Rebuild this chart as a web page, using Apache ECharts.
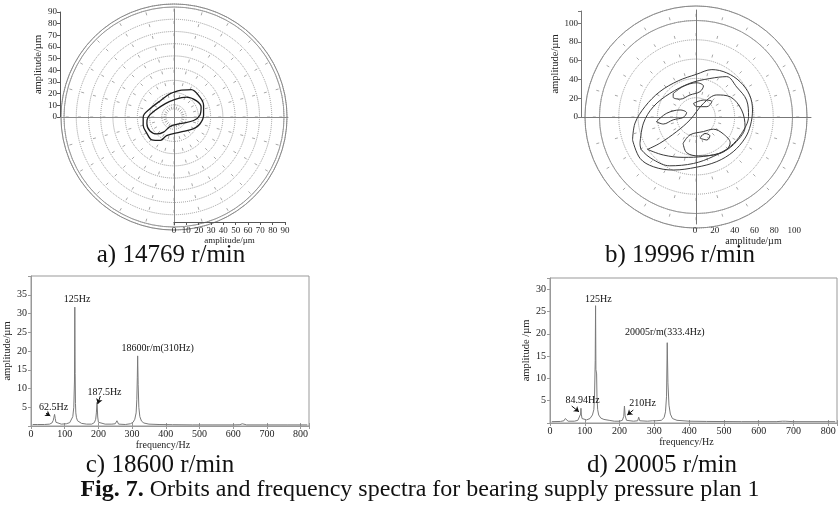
<!DOCTYPE html>
<html>
<head>
<meta charset="utf-8">
<script src="https://cdn.jsdelivr.net/npm/echarts@6/dist/echarts.min.js"></script>
<style>
html, body { margin: 0; padding: 0; background: #fff; }
#fig { width: 839px; height: 507px; }
</style>
</head>
<body>
<div id="fig"></div>
<script>
// orbit a) 14769 r/min, [x, y] in µm
const orbitAOuter = [[6,23],[14,23.5],[21,17],[24,10],[24,1.5],[21,-6],[16,-10],[5,-13],[-6,-16],[-11,-20],[-18,-19.5],[-22,-14],[-25,-7],[-25,0],[-19.5,7],[-11,14],[-3,20],[6,23]];
const orbitAInner = [[1,15],[10,17],[18,14],[22,8.5],[21,1.5],[16,-3],[6,-5.5],[-3,-8],[-8.5,-13],[-14,-14.5],[-19.5,-12],[-22,-5.5],[-21,0],[-15.5,5.5],[-7,11.5],[1,15]];

// orbit b) 19996 r/min
const orbitB1 = [[-64,-24.5],[-61.5,-6.5],[-51.5,11],[-36.5,27],[-18,38.5],[0.5,45.5],[16,50.5],[31,47],[44.5,37.5],[54,23.5],[57,7.5],[55,-8.5],[49.5,-22.5],[37.5,-37],[21,-47.5],[0.5,-53.5],[-23,-56.5],[-43,-53],[-56.5,-44],[-64,-24.5]];
const orbitB2 = [[-56.5,-28],[-53,-6.5],[-43,11],[-26.5,25],[-6,36],[14,41],[31,43],[41,32],[51,18],[53,0.5],[46,-17.5],[34.5,-31.5],[17.5,-42],[-2.5,-49.5],[-26.5,-52],[-43,-45.5],[-55,-35],[-56.5,-28]];
const orbitB3 = [[-49,-34.5],[-36.5,-28],[-19.5,-15.5],[-6,-3],[7.5,14.5],[21,23.5],[34.5,21.5],[46,7.5],[49.5,-10.5],[41,-26],[27.5,-37],[7.5,-42],[-13,-43],[-33,-40.5],[-49,-34.5]];
const beanTop = [[-23,25],[-13,32.5],[0.5,36.5],[7.5,33],[4,27],[-6,23.5],[-16,19],[-23,21],[-23,25]];
const beanMid = [[-2.5,14.5],[7.5,18],[16,16.5],[11,11],[0.5,11],[-2.5,14.5]];
const beanLeft = [[-40,-5],[-29.5,4],[-16,7.5],[-9.5,4.5],[-13,-0.5],[-23,-3],[-33,-7.5],[-40,-5]];
const beanBottom = [[-13,-28],[-6,-19],[7.5,-15.5],[17.5,-13],[27.5,-18],[34.5,-27.5],[29.5,-36],[17.5,-40.5],[2.5,-41.5],[-9.5,-38],[-13,-28]];
const beanSmall = [[4,-22.5],[9,-17.5],[14,-20],[11,-24.5],[4,-22.5]];

// spectrum c) 18600 r/min, [frequency Hz, amplitude µm]
const spectrumC = [[5,0.4],[20,0.4],[40,0.4],[55,0.5],[62,0.8],[66,1.5],[68,2.3],[70,3.1],[72,2.0],[74,1.0],[78,0.6],[90,0.5],[105,0.6],[115,0.9],[120,1.4],[124,2.5],[127,5],[129,12],[130,31.7],[131,14],[132,6],[133,3.5],[135,2.2],[138,1.4],[142,1.0],[150,0.7],[165,0.5],[180,0.5],[188,0.9],[192,1.8],[194,3.5],[196,6.3],[198,2.4],[200,1.0],[205,0.6],[220,0.5],[240,0.5],[250,0.6],[253,1.0],[255,1.4],[257,0.9],[260,0.5],[280,0.4],[295,0.6],[303,1.0],[308,1.8],[312,3.5],[314,7],[315.5,13],[316.5,18.7],[318,11],[320,5],[323,2.5],[328,1.3],[335,0.8],[350,0.5],[380,0.4],[420,0.35],[480,0.3],[540,0.3],[600,0.3],[620,0.35],[625,0.5],[627,0.6],[630,0.4],[640,0.3],[700,0.3],[760,0.3],[820,0.3]];
// spectrum d) 20005 r/min
const spectrumD = [[5,0.3],[30,0.35],[40,0.5],[44,1.0],[46,1.4],[48,0.8],[52,0.4],[70,0.4],[80,0.6],[85,1.0],[88,2.0],[89,3.3],[90,2.0],[92,1.0],[96,0.7],[105,0.7],[115,1.0],[122,1.8],[126,3],[128,6],[130,14],[131,26.3],[132,12],[134,11],[135,6],[137,3],[140,1.8],[146,1.1],[155,0.8],[170,0.6],[185,0.4],[200,0.4],[208,0.6],[212,1.5],[214,3.8],[216,1.6],[220,0.6],[240,0.4],[252,0.5],[255,1.3],[258,0.5],[280,0.4],[295,0.5],[300,0.6],[305,0.5],[320,0.6],[328,1.2],[332,2.5],[335,6],[337,18],[339,9],[342,4],[346,2],[352,1],[365,0.6],[400,0.4],[450,0.35],[550,0.3],[650,0.3],[668,0.4],[672,0.6],[676,0.4],[700,0.3],[820,0.3]];

// peak notes: [label, freq, amplitude]
const notesC = [['125Hz',137,33.9],['18600r/m(310Hz)',376,20.8],['187.5Hz',218,8.9],['62.5Hz',67,5.0]];
const notesD = [['125Hz',139,27.8],['20005r/m(333.4Hz)',330,20.4],['84.94Hz',94,5.0],['210Hz',266,4.3]];
const arrowsC = [[[205.8,8.0],[198,5.9]],[[44.5,3.4],[57.3,2.7]]];
const arrowsD = [[[62.4,3.8],[83.3,2.5]],[[239.4,2.9],[222.1,1.8]]];

const serif = '"Liberation Serif", "Times New Roman", serif';
const txt = { fontFamily: serif, color: '#222' };

const hiddenAxis = (g) => ({ gridIndex: g, type: 'value', show: false, min: 0, max: 1 });

const orbitLine = (data, xi, color, width) => ({
  type: 'line', xAxisIndex: xi, yAxisIndex: xi, data: data,
  showSymbol: false, symbol: 'none', smooth: 0.35, silent: true,
  lineStyle: { color: color, width: width }
});

const spectrum = (data, xi, notes, arrows) => ({
  type: 'line', xAxisIndex: xi, yAxisIndex: xi, data: data,
  showSymbol: false, symbol: 'none', silent: true,
  lineStyle: { color: '#7a7a7a', width: 1 },
  markPoint: {
    symbol: 'circle', symbolSize: 1, silent: true,
    itemStyle: { color: 'rgba(0,0,0,0)' },
    label: { show: true, position: 'inside', formatter: '{b}', fontSize: 10, fontFamily: serif, color: '#111' },
    data: notes.map(n => ({ name: n[0], coord: [n[1], n[2]] }))
  },
  markLine: {
    silent: true, symbol: ['none', 'arrow'], symbolSize: 5,
    lineStyle: { color: '#111', width: 1, type: 'solid' },
    label: { show: false },
    data: arrows.map(a => [{ coord: a[0] }, { coord: a[1] }])
  }
});

// rings: radius axis split circles + outer circle
const ringRadius = (p, max, interval) => ({
  polarIndex: p, type: 'value', min: 0, max: max, interval: interval,
  axisLine: { show: false }, axisTick: { show: false }, axisLabel: { show: false },
  splitLine: { show: true, lineStyle: { color: '#9a9a9a', type: 'dotted', width: 1 } }
});
const circleAngle = (p, color) => ({
  polarIndex: p, type: 'value', min: 0, max: 360,
  axisLine: { show: true, lineStyle: { color: color, width: 1 } },
  axisTick: { show: false }, axisLabel: { show: false }, splitLine: { show: false }
});
const plainRadius = (p) => ({
  polarIndex: p, type: 'value', min: 0, max: 1,
  axisLine: { show: false }, axisTick: { show: false }, axisLabel: { show: false }, splitLine: { show: false }
});
// short radial ticks where the spokes cross the rings
const spokeAngle = (p, gap, offset) => ({
  polarIndex: p, type: 'value', min: 0, max: 360, interval: 15,
  axisLine: { show: false }, axisTick: { show: false }, axisLabel: { show: false },
  splitLine: { show: true, lineStyle: { color: '#a8a8a8', width: 1, type: [3, gap], dashOffset: offset } }
});

const noMax = (limit) => (v => v > limit ? '' : v);

const chart = echarts.init(document.getElementById('fig'), null, { renderer: 'canvas' });

const option = {
  animation: false,
  backgroundColor: '#fff',
  polar: [
    { center: [174, 117], radius: 113 },
    { center: [174, 117], radius: 110 },
    { center: [174, 117], radius: [6, 113] },
    { center: [696, 117], radius: 111 },
    { center: [696, 117], radius: 96.5 },
    { center: [696, 117], radius: [10, 111] }
  ],
  radiusAxis: [ringRadius(0, 92.5, 10), plainRadius(1), plainRadius(2), ringRadius(3, 115, 20), plainRadius(4), plainRadius(5)],
  angleAxis: [circleAngle(0, '#8a8a8a'), circleAngle(1, '#9a9a9a'), spokeAngle(2, 9.216, 7.5),
              circleAngle(3, '#8a8a8a'), circleAngle(4, '#9a9a9a'), spokeAngle(5, 16.304, 11.5)],
  grid: [
    { left: 60, top: 9, width: 228, height: 216, outerBoundsMode: 'none' },
    { left: 60, top: 12, width: 2, height: 105, outerBoundsMode: 'none' },
    { left: 174, top: 221, width: 111, height: 1, outerBoundsMode: 'none' },
    { left: 581, top: 10, width: 230, height: 214, outerBoundsMode: 'none' },
    { left: 581, top: 11, width: 2, height: 106, outerBoundsMode: 'none' },
    { left: 695, top: 223, width: 117, height: 1, outerBoundsMode: 'none' },
    { left: 31, top: 276, width: 278, height: 150, show: true, borderColor: '#999', outerBoundsMode: 'none' },
    { left: 550, top: 278, width: 287, height: 145, show: true, borderColor: '#999', outerBoundsMode: 'none' }
  ],
  xAxis: [
    { gridIndex: 0, type: 'value', min: -92.5, max: 92.5, axisLine: { onZero: true, lineStyle: { color: '#8a8a8a' } },
      axisTick: { show: false }, axisLabel: { show: false }, splitLine: { show: false } },
    hiddenAxis(1),
    { gridIndex: 2, type: 'value', min: 0, max: 90, interval: 10, position: 'bottom',
      axisLine: { lineStyle: { color: '#555' } }, axisTick: { length: 3, lineStyle: { color: '#555' } },
      axisLabel: Object.assign({ fontSize: 9, margin: 4 }, txt), splitLine: { show: false },
      name: 'amplitude/µm', nameLocation: 'middle', nameGap: 14, nameTextStyle: Object.assign({ fontSize: 9 }, txt) },
    { gridIndex: 3, type: 'value', min: -116, max: 116, axisLine: { onZero: true, lineStyle: { color: '#777' } },
      axisTick: { show: false }, axisLabel: { show: false }, splitLine: { show: false } },
    hiddenAxis(4),
    { gridIndex: 5, type: 'value', min: 0, max: 118, interval: 20, position: 'bottom',
      axisLine: { show: false }, axisTick: { show: false },
      axisLabel: Object.assign({ fontSize: 9, margin: 2, formatter: noMax(100) }, txt), splitLine: { show: false },
      name: 'amplitude/µm', nameLocation: 'middle', nameGap: 12, nameTextStyle: Object.assign({ fontSize: 10 }, txt) },
    { gridIndex: 6, type: 'value', min: 0, max: 825, interval: 100, position: 'bottom',
      axisLine: { lineStyle: { color: '#999' } }, axisTick: { inside: true, length: 3, lineStyle: { color: '#999' } },
      axisLabel: Object.assign({ fontSize: 10, margin: 3, formatter: noMax(800) }, txt), splitLine: { show: false },
      name: 'frequency/Hz', nameLocation: 'middle', nameGap: 12,
      nameTextStyle: Object.assign({ fontSize: 10, padding: [0, 14, 0, 0] }, txt) },
    { gridIndex: 6, type: 'value', min: 0, max: 825, interval: 100, position: 'top',
      axisLine: { show: false }, axisTick: { inside: true, length: 3, lineStyle: { color: '#999' } },
      axisLabel: { show: false }, splitLine: { show: false } },
    { gridIndex: 7, type: 'value', min: 0, max: 825, interval: 100, position: 'bottom',
      axisLine: { lineStyle: { color: '#999' } }, axisTick: { inside: true, length: 3, lineStyle: { color: '#999' } },
      axisLabel: Object.assign({ fontSize: 10, margin: 3, formatter: noMax(800) }, txt), splitLine: { show: false },
      name: 'frequency/Hz', nameLocation: 'middle', nameGap: 12,
      nameTextStyle: Object.assign({ fontSize: 10, padding: [0, 14, 0, 0] }, txt) },
    { gridIndex: 7, type: 'value', min: 0, max: 825, interval: 100, position: 'top',
      axisLine: { show: false }, axisTick: { inside: true, length: 3, lineStyle: { color: '#999' } },
      axisLabel: { show: false }, splitLine: { show: false } }
  ],
  yAxis: [
    { gridIndex: 0, type: 'value', min: -92.5, max: 92.5, axisLine: { onZero: true, lineStyle: { color: '#8a8a8a' } },
      axisTick: { show: false }, axisLabel: { show: false }, splitLine: { show: false } },
    { gridIndex: 1, type: 'value', min: 0, max: 90, interval: 10, position: 'left',
      axisLine: { show: true, lineStyle: { color: '#555' } }, axisTick: { show: true, length: 3, lineStyle: { color: '#555' } },
      axisLabel: Object.assign({ fontSize: 9, margin: 3 }, txt), splitLine: { show: false },
      name: 'amplitude/µm', nameLocation: 'middle', nameGap: 13, nameTextStyle: Object.assign({ fontSize: 10.5 }, txt) },
    hiddenAxis(2),
    { gridIndex: 3, type: 'value', min: -114, max: 114, axisLine: { onZero: true, lineStyle: { color: '#777' } },
      axisTick: { show: false }, axisLabel: { show: false }, splitLine: { show: false } },
    { gridIndex: 4, type: 'value', min: 0, max: 113, interval: 20, position: 'left',
      axisLine: { show: true, lineStyle: { color: '#777' } }, axisTick: { show: true, length: 3, lineStyle: { color: '#777' } },
      axisLabel: Object.assign({ fontSize: 9, margin: 3, formatter: noMax(100) }, txt), splitLine: { show: false },
      name: 'amplitude/µm', nameLocation: 'middle', nameGap: 16, nameTextStyle: Object.assign({ fontSize: 10.5 }, txt) },
    hiddenAxis(5),
    { gridIndex: 6, type: 'value', min: 0, max: 40, interval: 5, position: 'left',
      axisLine: { show: true, lineStyle: { color: '#999' } }, axisTick: { show: true, length: 3, lineStyle: { color: '#999' } },
      axisLabel: Object.assign({ fontSize: 10, margin: 4, formatter: v => (v === 0 || v === 40) ? '' : v }, txt),
      splitLine: { show: false },
      name: 'amplitude/µm', nameLocation: 'middle', nameGap: 15, nameTextStyle: Object.assign({ fontSize: 10.5 }, txt) },
    { gridIndex: 6, type: 'value', min: 0, max: 40, interval: 5, position: 'right',
      axisLine: { show: false }, axisTick: { show: true, inside: true, length: 3, lineStyle: { color: '#999' } },
      axisLabel: { show: false }, splitLine: { show: false } },
    { gridIndex: 7, type: 'value', min: 0, max: 32.5, interval: 5, position: 'left',
      axisLine: { show: true, lineStyle: { color: '#999' } }, axisTick: { show: true, length: 3, lineStyle: { color: '#999' } },
      axisLabel: Object.assign({ fontSize: 10, margin: 4, formatter: v => (v === 0 || v > 30) ? '' : v }, txt),
      splitLine: { show: false },
      name: 'amplitude /µm', nameLocation: 'middle', nameGap: 17, nameTextStyle: Object.assign({ fontSize: 10.5 }, txt) },
    { gridIndex: 7, type: 'value', min: 0, max: 32.5, interval: 5, position: 'right',
      axisLine: { show: false }, axisTick: { show: true, inside: true, length: 3, lineStyle: { color: '#999' } },
      axisLabel: { show: false }, splitLine: { show: false } }
  ],
  series: [
    orbitLine(orbitAOuter, 0, '#1e1e1e', 1.3),
    orbitLine(orbitAInner, 0, '#1e1e1e', 1.3),
    orbitLine(orbitB1, 3, '#3a3a3a', 1),
    orbitLine(orbitB2, 3, '#3a3a3a', 1),
    orbitLine(orbitB3, 3, '#3a3a3a', 1),
    orbitLine(beanTop, 3, '#3a3a3a', 1),
    orbitLine(beanMid, 3, '#3a3a3a', 1),
    orbitLine(beanLeft, 3, '#3a3a3a', 1),
    orbitLine(beanBottom, 3, '#3a3a3a', 1),
    orbitLine(beanSmall, 3, '#3a3a3a', 1),
    spectrum(spectrumC, 6, notesC, arrowsC),
    spectrum(spectrumD, 8, notesD, arrowsD)
  ],
  graphic: [
    { type: 'text', x: 171, y: 255, style: { text: 'a) 14769 r/min', fontSize: 25, fontFamily: serif, fill: '#111', align: 'center', verticalAlign: 'middle', textAlign: 'center', textVerticalAlign: 'middle' } },
    { type: 'text', x: 680, y: 255, style: { text: 'b) 19996 r/min', fontSize: 25, fontFamily: serif, fill: '#111', align: 'center', verticalAlign: 'middle', textAlign: 'center', textVerticalAlign: 'middle' } },
    { type: 'text', x: 160, y: 465, style: { text: 'c) 18600 r/min', fontSize: 25, fontFamily: serif, fill: '#111', align: 'center', verticalAlign: 'middle', textAlign: 'center', textVerticalAlign: 'middle' } },
    { type: 'text', x: 662, y: 465, style: { text: 'd) 20005 r/min', fontSize: 25, fontFamily: serif, fill: '#111', align: 'center', verticalAlign: 'middle', textAlign: 'center', textVerticalAlign: 'middle' } },
    { type: 'text', x: 420, y: 490, style: {
        text: '{b|Fig. 7.} Orbits and frequency spectra for bearing supply pressure plan 1',
        fontSize: 24, fontFamily: serif, fill: '#111', align: 'center', verticalAlign: 'middle', textAlign: 'center', textVerticalAlign: 'middle',
        rich: { b: { fontWeight: 'bold', fontSize: 24, fontFamily: serif, fill: '#111' } } } }
  ]
};

chart.setOption(option);
</script>
</body>
</html>
